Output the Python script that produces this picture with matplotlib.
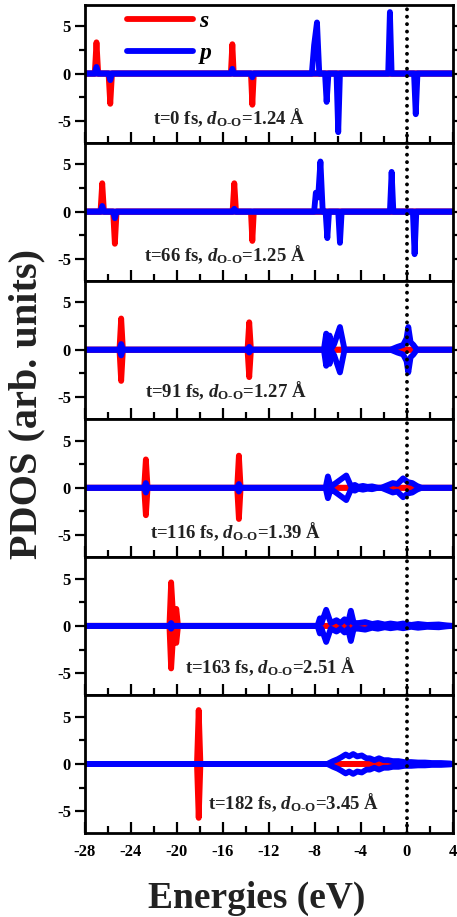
import matplotlib
matplotlib.use('Agg')
import matplotlib.pyplot as plt
from matplotlib.ticker import MultipleLocator

plt.rcParams['font.family'] = ['Liberation Serif', 'DejaVu Serif']
plt.rcParams['font.weight'] = 'bold'
plt.rcParams['mathtext.fontset'] = 'custom'
plt.rcParams['mathtext.rm'] = 'Liberation Serif:bold'
plt.rcParams['mathtext.it'] = 'Liberation Serif:italic:bold'
plt.rcParams['mathtext.bf'] = 'Liberation Serif:bold'

# PDOS vertices: (energy eV, spin-up, spin-down)
# the curves sit at zero everywhere else between -28 and 4 eV
s_0 = [(-27.15, 0, 0), (-27.0, 3.3, 0), (-26.85, 0, 0),
       (-25.95, 0, 0), (-25.8, 0, -3.2), (-25.65, 0, 0),
       (-15.3, 0, 0), (-15.17, 3.1, 0), (-15.05, 0, 0),
       (-13.55, 0, 0), (-13.43, 0, -3.3), (-13.3, 0, 0)]
p_0 = [(-27.15, 0, 0), (-27.0, 0.7, 0), (-26.85, 0, 0),
       (-25.95, 0, 0), (-25.8, 0, -0.7), (-25.65, 0, 0),
       (-15.3, 0, 0), (-15.17, 0.5, 0), (-15.05, 0, 0),
       (-13.55, 0, 0), (-13.43, 0, -0.4), (-13.3, 0, 0),
       (-8.25, 0, 0), (-8.05, 3.0, 0), (-7.8, 5.4, 0), (-7.6, 0, 0),
       (-7.1, 0, 0), (-6.96, 0, -3.0), (-6.8, 0, 0),
       (-6.1, 0, 0), (-5.95, 0, -6.2), (-5.8, 0, 0),
       (-1.6, 0, 0), (-1.45, 6.5, 0), (-1.3, 0, 0),
       (0.65, 0, 0), (0.8, 0, -4.3), (0.95, 0, 0)]

s_1 = [(-26.65, 0, 0), (-26.5, 3.0, 0), (-26.35, 0, 0),
       (-25.55, 0, 0), (-25.4, 0, -3.4), (-25.25, 0, 0),
       (-15.15, 0, 0), (-15.0, 3.0, 0), (-14.85, 0, 0),
       (-13.55, 0, 0), (-13.43, 0, -3.1), (-13.3, 0, 0)]
p_1 = [(-26.65, 0, 0), (-26.5, 0.6, 0), (-26.35, 0, 0),
       (-25.55, 0, 0), (-25.4, 0, -0.7), (-25.25, 0, 0),
       (-15.15, 0, 0), (-15.0, 0.3, 0), (-14.85, 0, 0),
       (-8.05, 0, 0), (-7.9, 2.0, 0), (-7.7, 1.5, 0), (-7.5, 5.3, 0), (-7.3, 0, 0),
       (-7.05, 0, 0), (-6.9, 0, -2.8), (-6.75, 0, 0),
       (-5.95, 0, 0), (-5.8, 0, -3.3), (-5.65, 0, 0),
       (-1.45, 0, 0), (-1.3, 4.2, 0), (-1.15, 0, 0),
       (0.55, 0, 0), (0.7, 0, -4.5), (0.85, 0, 0)]

s_2 = [(-25.0, 0, 0), (-24.85, 3.3, -3.3), (-24.7, 0, 0),
       (-13.85, 0, 0), (-13.7, 2.9, -2.9), (-13.55, 0, 0)]
p_2 = [(-25.0, 0, 0), (-24.85, 0.6, -0.6), (-24.7, 0, 0),
       (-13.85, 0, 0), (-13.7, 0.3, -0.3), (-13.55, 0, 0),
       (-7.2, 0, 0), (-7.0, 1.7, -1.7), (-6.85, 0.2, -0.2), (-6.7, 1.5, -1.5),
       (-6.5, 0.2, -0.2), (-6.3, 0.6, -0.6), (-5.8, 2.4, -2.4), (-5.4, 0, 0),
       (-1.4, 0, 0), (-0.8, 0.3, -0.3), (-0.3, 0.5, -0.5), (0.0, 1.2, -1.2),
       (0.15, 2.4, -2.4), (0.35, 0.8, -0.8), (0.6, 0.5, -0.5), (0.9, 0, 0)]

s_3 = [(-22.85, 0, 0), (-22.7, 3.0, -2.9), (-22.55, 0, 0),
       (-14.75, 0, 0), (-14.6, 3.4, -3.3), (-14.45, 0, 0)]
p_3 = [(-22.85, 0, 0), (-22.7, 0.5, -0.5), (-22.55, 0, 0),
       (-14.75, 0, 0), (-14.6, 0.4, -0.4), (-14.45, 0, 0),
       (-7.05, 0, 0), (-6.85, 1.2, -1.1), (-6.65, 0.3, -0.3), (-6.5, 0.2, -0.2),
       (-5.25, 1.3, -1.3), (-4.85, 0.2, -0.2), (-4.5, 0.3, -0.3), (-4.2, 0.1, -0.1),
       (-3.8, 0.2, -0.2), (-3.4, 0.1, -0.1), (-3.0, 0.15, -0.15), (-2.5, 0, 0),
       (-2.2, 0, 0), (-1.6, 0.3, -0.3), (-1.2, 0.5, -0.5), (-0.8, 0.4, -0.4),
       (-0.3, 1.0, -1.0), (0.1, 0.6, -0.6), (0.5, 0.5, -0.5), (0.9, 0.2, -0.2),
       (1.3, 0, 0)]

s_4 = [(-20.65, 0, 0), (-20.5, 4.6, -4.5), (-20.3, 0.5, -0.5),
       (-20.05, 1.8, -1.8), (-19.9, 0, 0)]
p_4 = [(-20.65, 0, 0), (-20.5, 0.3, -0.3), (-20.35, 0, 0),
       (-7.75, 0, 0), (-7.55, 0.8, -0.8), (-7.4, 0.3, -0.3), (-7.0, 1.7, -1.7),
       (-6.6, 0.3, -0.3), (-6.1, 0.6, -0.6), (-5.75, 0.3, -0.3), (-5.4, 0.7, -0.7),
       (-5.1, 0.3, -0.3), (-4.85, 1.6, -1.6), (-4.6, 0.3, -0.3), (-4.2, 0.3, -0.3),
       (-3.6, 0.4, -0.4), (-3.0, 0.2, -0.2), (-2.5, 0.3, -0.3), (-1.9, 0.15, -0.15),
       (-1.4, 0.25, -0.25), (-0.8, 0.15, -0.15), (-0.3, 0.25, -0.25),
       (0.4, 0.1, -0.1), (1.0, 0.2, -0.2), (1.8, 0.1, -0.1), (2.8, 0.15, -0.15),
       (3.5, 0.05, -0.05)]

s_5 = [(-18.25, 0, 0), (-18.1, 5.7, -5.7), (-17.95, 0, 0)]
p_5 = [(-6.9, 0, 0), (-6.4, 0.3, -0.3), (-6.0, 0.5, -0.5), (-5.7, 0.7, -0.7),
       (-5.3, 1.0, -1.0), (-5.0, 0.8, -0.8), (-4.65, 1.05, -1.05), (-4.3, 0.8, -0.8),
       (-3.9, 0.9, -0.9), (-3.5, 0.6, -0.6), (-3.2, 0.6, -0.6), (-2.8, 0.4, -0.4),
       (-2.4, 0.6, -0.6), (-2.0, 0.4, -0.4), (-1.6, 0.4, -0.4), (-1.2, 0.3, -0.3),
       (-0.7, 0.3, -0.3), (-0.2, 0.2, -0.2), (0.4, 0.2, -0.2), (1.0, 0.15, -0.15),
       (1.6, 0.15, -0.15), (2.2, 0.1, -0.1), (3.0, 0.1, -0.1), (3.8, 0.05, -0.05)]

s_curves = [s_0, s_1, s_2, s_3, s_4, s_5]
p_curves = [p_0, p_1, p_2, p_3, p_4, p_5]

times = ['0', '66', '91', '116', '163', '182']
d_oo = ['1.24', '1.25', '1.27', '1.39', '2.51', '3.45']
# where each label sits (energy, pdos)
label_xy = [(-22.1, -5.35), (-22.9, -5.25), (-22.75, -5.0),
            (-22.3, -5.3), (-19.3, -5.0), (-17.25, -4.75)]

e_min, e_max = -28, 4


def curve(rows, col):
    x = [e_min] + [r[0] for r in rows] + [e_max]
    y = [0] + [r[col] for r in rows] + [0]
    return x, y


fig = plt.figure(figsize=(4.57, 9.17), dpi=100)
left, right = 85 / 457, 452.5 / 457
bottom, top = 84 / 917, 912.5 / 917
h = (top - bottom) / 6

for i in range(6):
    ax = fig.add_axes([left, top - (i + 1) * h, right - left, h])
    for col in (1, 2):
        x, y = curve(s_curves[i], col)
        ax.plot(x, y, color='red', lw=4.2, solid_joinstyle='round',
                solid_capstyle='round', label='s' if col == 1 else None)
    for col in (1, 2):
        x, y = curve(p_curves[i], col)
        ax.plot(x, y, color='blue', lw=4.2, solid_joinstyle='round',
                solid_capstyle='round', label='p' if col == 1 else None)

    ax.axvline(0, color='black', lw=2.8, ls=(0, (0.01, 1.9)),
               dash_capstyle='round', zorder=5)

    ax.set_xlim(e_min, e_max)
    ax.set_ylim(-7.3, 7.3)
    ax.xaxis.set_minor_locator(MultipleLocator(2))
    ax.yaxis.set_minor_locator(MultipleLocator(2.5))
    ax.tick_params(axis='x', which='both', direction='in', top=False,
                   labelbottom=(i == 5), labelsize=12, pad=8, width=1.6)
    ax.tick_params(axis='x', which='major', length=8)
    ax.tick_params(axis='x', which='minor', length=5)
    ax.tick_params(axis='y', which='both', direction='out', right=True,
                   labelsize=12, pad=3, width=1.6)
    ax.tick_params(axis='y', which='major', length=7)
    ax.tick_params(axis='y', which='minor', length=4)
    ax.set_xticks([-28, -24, -20, -16, -12, -8, -4, 0, 4])
    ax.set_xticklabels(['-28', '-24', '-20', '-16', '-12', '-8', '-4', '0', '4'])
    ax.set_yticks([-5, 0, 5])
    ax.set_yticklabels(['-5', '0', '5'])
    for sp in ax.spines.values():
        sp.set_linewidth(2)

    lx, ly = label_xy[i]
    ax.text(lx, ly, 't=' + times[i] + r' fs, $d_{\mathrm{O‐O}}$=' + d_oo[i] + ' Å',
            fontsize=13.5, fontweight='bold', color='#222222', va='baseline', ha='left')

    if i == 0:
        ax.legend(loc='upper left', bbox_to_anchor=(0.115, 0.955), frameon=False,
                  handlelength=2.8, handletextpad=0.25, labelspacing=0.45,
                  borderpad=0, borderaxespad=0,
                  prop={'family': 'Liberation Serif', 'style': 'italic',
                        'weight': 'bold', 'size': 17})

fig.text(257 / 457, 1 - 908 / 917, 'Energies (eV)', fontsize=27, fontweight='bold',
         color='#222222', ha='center', va='baseline')
fig.text(27 / 457, 1 - 404 / 917, 'PDOS (arb. units)', fontsize=29, fontweight='bold',
         color='#222222', ha='center', va='center', rotation=90)

fig.savefig('out.png', dpi=100)
